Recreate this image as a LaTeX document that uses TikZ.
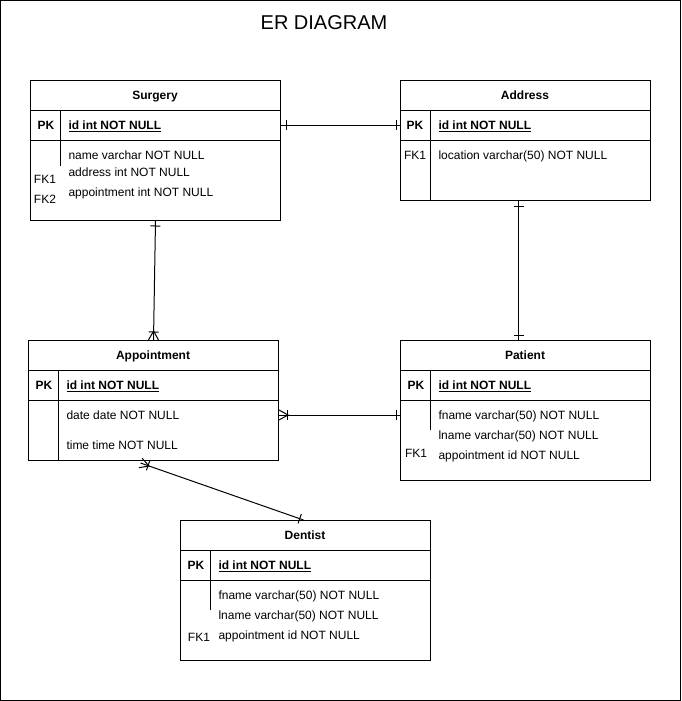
\documentclass[tikz,border=0pt]{standalone}
\usepackage{fontspec}
\setmainfont{Liberation Sans}
\usetikzlibrary{calc}
\newcommand\erBar[3]{%
  \coordinate (erp) at ($(#1)!#3!(#2)$);
  \draw ($(erp)!5pt!90:(#2)$) -- ($(erp)!5pt!-90:(#2)$);}
\newcommand\erMany[2]{%
  \coordinate (erq) at ($(#1)!9pt!(#2)$);
  \draw ($(#1)!5pt!90:(#2)$) -- (erq) -- ($(#1)!5pt!-90:(#2)$);}
\begin{document}
\begin{tikzpicture}[x=1pt,y=-1pt,line width=1pt,
  tablebox/.style={draw,line width=1pt,anchor=north west,inner sep=0pt,minimum width=250pt},
  titletxt/.style={font=\bfseries\fontsize{12}{14}\selectfont,inner sep=0pt,text height=8.6pt,text depth=0pt},
  fieldtxt/.style={font=\fontsize{12}{14}\selectfont,inner sep=0pt,anchor=west,text height=8.6pt,text depth=0pt},
  pkfield/.style={fieldtxt,font=\bfseries\fontsize{12}{14}\selectfont},
  pkcell/.style={titletxt},
  fkcell/.style={font=\fontsize{12}{14}\selectfont,inner sep=0pt,text height=8.6pt,text depth=0pt},
  conn/.style={line width=1pt}]
\useasboundingbox (0,0) rectangle (681,701);
\draw (0.5,0.5) rectangle (680,700);
\node[font=\fontsize{20}{24}\selectfont,inner sep=0pt] (title) at (324,23) {ER DIAGRAM};

% Surgery
\node[tablebox,minimum height=140pt] (surgery) at (30,80) {};
\draw (30,110) -- (280,110) (30,140) -- (280,140) (60,110) -- (60,166);
\node[titletxt] (surgeryT) at (155,95) {Surgery};
\coordinate (surgeryPKrow) at (155,125);
\node[pkcell] (surgeryPK) at (46,125) {PK};
\node[pkfield] (surgeryId) at (68,125) {\underline{id int NOT NULL}};
\node[fieldtxt] (surgeryF1) at (68,155) {name varchar NOT NULL};
\node[fieldtxt] (surgeryF2) at (68,172) {address int NOT NULL};
\node[fieldtxt] (surgeryF3) at (68,192) {appointment int NOT NULL};
\node[fkcell] (surgeryFK1) at (45,179) {FK1};
\node[fkcell] (surgeryFK2) at (45,199) {FK2};

% Address
\node[tablebox,minimum height=120pt] (address) at (400,80) {};
\draw (400,110) -- (650,110) (400,140) -- (650,140) (430,110) -- (430,200);
\node[titletxt] (addressT) at (525,95) {Address};
\coordinate (addressPKrow) at (525,125);
\node[pkcell] (addressPK) at (415,125) {PK};
\node[pkfield] (addressId) at (438,125) {\underline{id int NOT NULL}};
\node[fkcell] (addressFK1) at (415,155) {FK1};
\node[fieldtxt] (addressF1) at (438,155) {location varchar(50) NOT NULL};

% Appointment
\node[tablebox,minimum height=120pt] (appt) at (28,340) {};
\draw (28,370) -- (278,370) (28,400) -- (278,400) (58,370) -- (58,460);
\node[titletxt] (apptT) at (153,355) {Appointment};
\node[pkcell] (apptPK) at (44,385) {PK};
\node[pkfield] (apptId) at (66,385) {\underline{id int NOT NULL}};
\node[fieldtxt] (apptF1) at (66,415) {date date NOT NULL};
\node[fieldtxt] (apptF2) at (66,445) {time time NOT NULL};

% Patient
\node[tablebox,minimum height=140pt] (patient) at (400,340) {};
\draw (400,370) -- (650,370) (400,400) -- (650,400) (430,370) -- (430,430);
\node[titletxt] (patientT) at (525,355) {Patient};
\node[pkcell] (patientPK) at (416,385) {PK};
\node[pkfield] (patientId) at (438,385) {\underline{id int NOT NULL}};
\node[fieldtxt] (patientF1) at (438,415) {fname varchar(50) NOT NULL};
\node[fieldtxt] (patientF2) at (438,435) {lname varchar(50) NOT NULL};
\node[fieldtxt] (patientF3) at (438,455) {appointment id NOT NULL};
\node[fkcell] (patientFK1) at (416,453) {FK1};

% Dentist
\node[tablebox,minimum height=140pt] (dentist) at (180,520) {};
\draw (180,550) -- (430,550) (180,580) -- (430,580) (210,550) -- (210,610);
\node[titletxt] (dentistT) at (305,535) {Dentist};
\node[pkcell] (dentistPK) at (196,565) {PK};
\node[pkfield] (dentistId) at (218,565) {\underline{id int NOT NULL}};
\node[fieldtxt] (dentistF1) at (218,595) {fname varchar(50) NOT NULL};
\node[fieldtxt] (dentistF2) at (218,615) {lname varchar(50) NOT NULL};
\node[fieldtxt] (dentistF3) at (218,635) {appointment id NOT NULL};
\node[fkcell] (dentistFK1) at (199,637) {FK1};

% Connectors
\coordinate (c1a) at (surgeryPKrow -| surgery.east);
\coordinate (c1b) at (addressPKrow -| address.west);
\draw[conn] (c1a) -- (c1b);
\erBar{c1a}{c1b}{5pt}
\erBar{c1b}{c1a}{4pt}

\coordinate (c2a) at (surgery.south);
\coordinate (c2b) at (appt.north);
\draw[conn] (c2a) -- (c2b);
\erBar{c2a}{c2b}{5pt}
\erMany{c2b}{c2a}
\erBar{c2b}{c2a}{8pt}

\coordinate (c3a) at (apptF1.west -| appt.east);
\coordinate (c3b) at (apptF1.west -| patient.west);
\draw[conn] (c3a) -- (c3b);
\erMany{c3a}{c3b}
\erBar{c3a}{c3b}{8pt}
\erBar{c3b}{c3a}{4pt}

\coordinate (c4a) at ([xshift=-7pt]address.south);
\coordinate (c4b) at ([xshift=-7pt]patient.north);
\draw[conn] (c4a) -- (c4b);
\erBar{c4a}{c4b}{5pt}
\erBar{c4b}{c4a}{5pt}

\coordinate (c5a) at ([xshift=-13pt,yshift=-2pt]appt.south);
\coordinate (c5b) at ([xshift=-2pt]dentist.north);
\draw[conn] (c5a) -- (c5b);
\erMany{c5a}{c5b}
\erBar{c5a}{c5b}{8pt}
\erBar{c5b}{c5a}{4pt}
\end{tikzpicture}
\end{document}
